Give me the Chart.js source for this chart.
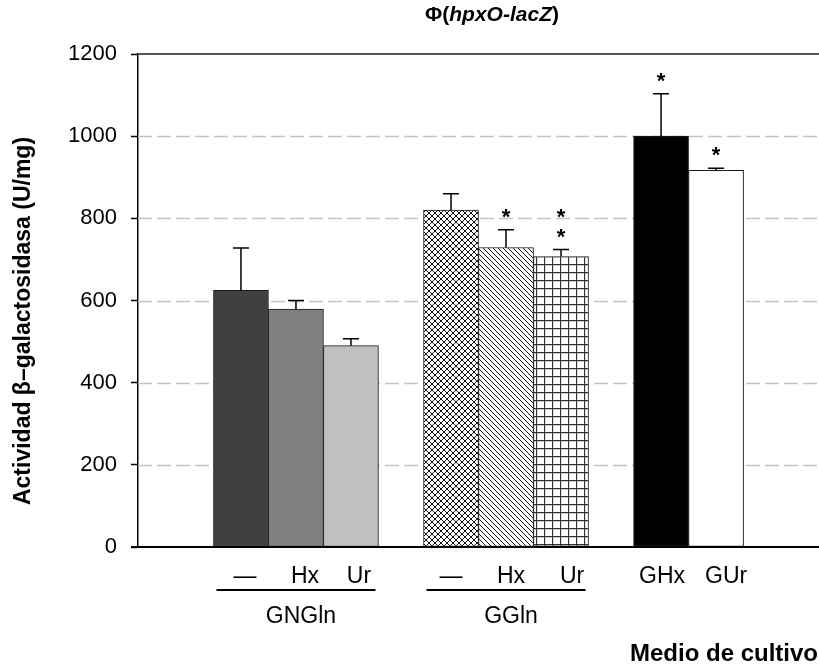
<!DOCTYPE html>
<html>
<head>
<meta charset="utf-8">
<script src="https://cdn.jsdelivr.net/npm/chart.js@4/dist/chart.umd.min.js"></script>
<style>
    body { margin: 0; background: #fff; }
    #caja { width: 819px; height: 668px; }
</style>
</head>
<body>
<div id="caja"><canvas id="graficoActividad"></canvas></div>
<script>
// datos del grafico
var grupos = ["GNGln", "GGln", ""];
var etiquetas = ["\u2014", "Hx", "Ur", "\u2014", "Hx", "Ur", "GHx", "GUr"];
var grupoDeBarra = [0, 0, 0, 1, 1, 1, 2, 2];
var posEnGrupo = [0, 1, 2, 0, 1, 2, 0, 1];
var media = [625, 579, 490, 820, 729, 707, 1000, 917];
var error = [103, 21, 17, 40, 43, 17, 103, 5];
var estrellas = [0, 0, 0, 0, 1, 2, 1, 1];
var ticksY = [0, 200, 400, 600, 800, 1000, 1200];

var fuente = "'Liberation Sans', Arial, sans-serif";

// rellenos con trama
function trama(tam, dibujar) {
    var c = document.createElement("canvas");
    c.width = tam;
    c.height = tam;
    var g = c.getContext("2d");
    g.fillStyle = "#fff";
    g.fillRect(0, 0, tam, tam);
    g.strokeStyle = "#111";
    g.lineWidth = 1;
    dibujar(g, tam);
    return document.createElement("canvas").getContext("2d").createPattern(c, "repeat");
}

var tramaCruz = trama(6, function (g, t) {
    g.beginPath();
    g.moveTo(0, 0); g.lineTo(t, t);
    g.moveTo(t, 0); g.lineTo(0, t);
    g.stroke();
});
var tramaDiagonal = trama(5, function (g, t) {
    g.beginPath();
    g.moveTo(-1, -1); g.lineTo(t + 1, t + 1);
    g.moveTo(-1, t - 1); g.lineTo(1, t + 1);
    g.moveTo(t - 1, -1); g.lineTo(t + 1, 1);
    g.stroke();
});
var tramaCuadros = trama(8, function (g, t) {
    g.strokeStyle = "#333";
    g.lineWidth = 1.3;
    g.beginPath();
    g.moveTo(0.5, 0); g.lineTo(0.5, t);
    g.moveTo(0, 0.5); g.lineTo(t, 0.5);
    g.stroke();
});

var rellenos = ["#404040", "#808080", "#c0c0c0", tramaCruz, tramaDiagonal, tramaCuadros, "#000000", "#ffffff"];

// un dataset por posicion dentro del grupo
var datasets = [];
for (var p = 0; p < 3; p++) {
    var puntos = [];
    var colores = [];
    var indices = [];
    for (var gr = 0; gr < grupos.length; gr++) {
        var k = -1;
        for (var i = 0; i < media.length; i++) {
            if (grupoDeBarra[i] == gr && posEnGrupo[i] == p) k = i;
        }
        puntos.push({ x: gr, y: k >= 0 ? media[k] : null });
        colores.push(k >= 0 ? rellenos[k] : "#fff");
        indices.push(k);
    }
    datasets.push({
        data: puntos,
        backgroundColor: colores,
        borderColor: "#1a1a1a",
        borderWidth: 1,
        borderSkipped: false,
        barThickness: 55,
        indices: indices
    });
}

var lineasFondo = {
    id: "lineasFondo",
    beforeDatasetsDraw: function (chart) {
        var ctx = chart.ctx;
        var a = chart.chartArea;
        var y = chart.scales.y;
        ctx.save();
        ctx.strokeStyle = "#c4c4c4";
        ctx.lineWidth = 1.5;
        ctx.setLineDash([14, 5]);
        for (var i = 1; i < ticksY.length - 1; i++) {
            var py = Math.round(y.getPixelForValue(ticksY[i])) + 0.5;
            ctx.beginPath();
            ctx.moveTo(a.left, py);
            ctx.lineTo(a.right, py);
            ctx.stroke();
        }
        ctx.setLineDash([]);
        ctx.strokeStyle = "#555";
        ctx.lineWidth = 2;
        var top = y.getPixelForValue(1200);
        ctx.beginPath();
        ctx.moveTo(a.left, top);
        ctx.lineTo(a.right, top);
        ctx.stroke();
        ctx.restore();
    }
};

var erroresYTextos = {
    id: "erroresYTextos",
    afterDatasetsDraw: function (chart) {
        var ctx = chart.ctx;
        var a = chart.chartArea;
        var y = chart.scales.y;
        ctx.save();
        // eje x
        ctx.strokeStyle = "#000";
        ctx.lineWidth = 2;
        ctx.beginPath();
        ctx.moveTo(a.left - 7, a.bottom);
        ctx.lineTo(a.right, a.bottom);
        ctx.stroke();

        var centros = [];
        chart.data.datasets.forEach(function (ds, d) {
            var meta = chart.getDatasetMeta(d);
            ds.indices.forEach(function (k, j) {
                if (k < 0) return;
                var barra = meta.data[j];
                centros[k] = { x: barra.x, w: barra.width };
                var yTop = y.getPixelForValue(media[k] + error[k]);
                ctx.strokeStyle = "#000";
                ctx.lineWidth = 1.5;
                ctx.beginPath();
                ctx.moveTo(barra.x, barra.y);
                ctx.lineTo(barra.x, yTop);
                ctx.moveTo(barra.x - 8, yTop);
                ctx.lineTo(barra.x + 8, yTop);
                ctx.stroke();
                ctx.fillStyle = "#000";
                ctx.font = "bold 22px " + fuente;
                ctx.textAlign = "center";
                ctx.textBaseline = "alphabetic";
                for (var s = 0; s < estrellas[k]; s++) {
                    ctx.fillText("*", barra.x, yTop - 18 - s * 20 + 12);
                }
            });
        });

        // etiquetas bajo las barras
        var ajuste = [4, 9, 8, 0, 5, 11, 1, 10];
        ctx.fillStyle = "#000";
        ctx.font = "23px " + fuente;
        ctx.textAlign = "center";
        ctx.textBaseline = "alphabetic";
        for (var i = 0; i < etiquetas.length; i++) {
            ctx.fillText(etiquetas[i], centros[i].x + ajuste[i], 583);
        }
        // lineas y nombres de grupo
        for (var gr = 0; gr < grupos.length; gr++) {
            if (!grupos[gr]) continue;
            var izq = 9999, der = 0;
            for (var i = 0; i < media.length; i++) {
                if (grupoDeBarra[i] != gr) continue;
                izq = Math.min(izq, centros[i].x - centros[i].w / 2);
                der = Math.max(der, centros[i].x + centros[i].w / 2);
            }
            ctx.lineWidth = 2;
            ctx.beginPath();
            ctx.moveTo(izq + 3, 590);
            ctx.lineTo(der - 3, 590);
            ctx.stroke();
            ctx.fillText(grupos[gr], (izq + der) / 2 + 5, 623);
        }

        // titulo
        var partes = [["\u03A6(", "bold "], ["hpxO-lacZ", "italic bold "], [")", "bold "]];
        var ancho = 0;
        partes.forEach(function (p) {
            ctx.font = p[1] + "21px " + fuente;
            ancho += ctx.measureText(p[0]).width;
        });
        var x = 492 - ancho / 2;
        ctx.textAlign = "left";
        partes.forEach(function (p) {
            ctx.font = p[1] + "21px " + fuente;
            ctx.fillText(p[0], x, 21);
            x += ctx.measureText(p[0]).width;
        });

        // titulo eje x
        ctx.font = "bold 24px " + fuente;
        ctx.textAlign = "right";
        ctx.fillText("Medio de cultivo", 818, 661);

        // titulo eje y
        ctx.translate(24, 321);
        ctx.rotate(-Math.PI / 2);
        ctx.font = "bold 23px " + fuente;
        ctx.textAlign = "center";
        ctx.textBaseline = "middle";
        ctx.fillText("Actividad \u03B2\u2013galactosidasa (U/mg)", 0, 0);
        ctx.restore();
    }
};

new Chart(document.getElementById("graficoActividad"), {
    type: "bar",
    data: { datasets: datasets },
    options: {
        responsive: true,
        maintainAspectRatio: false,
        animation: false,
        events: [],
        layout: { padding: { top: 54, right: 0, bottom: 121, left: 0 } },
        plugins: { legend: { display: false }, tooltip: { enabled: false } },
        scales: {
            x: {
                type: "linear",
                min: -0.752,
                max: 2.49,
                offset: false,
                display: false
            },
            y: {
                min: 0,
                max: 1200,
                afterFit: function (scale) { scale.width = 138; },
                afterBuildTicks: function (scale) {
                    scale.ticks = ticksY.map(function (v) { return { value: v }; });
                },
                ticks: {
                    color: "#000",
                    padding: 14,
                    font: { family: fuente, size: 22 },
                    callback: function (v) { return String(v); }
                },
                grid: {
                    drawOnChartArea: false,
                    drawTicks: true,
                    tickLength: 7,
                    tickColor: "#000",
                    tickWidth: 1.5
                },
                border: { display: true, color: "#000", width: 1.5 }
            }
        }
    },
    plugins: [lineasFondo, erroresYTextos]
});
</script>
</body>
</html>
